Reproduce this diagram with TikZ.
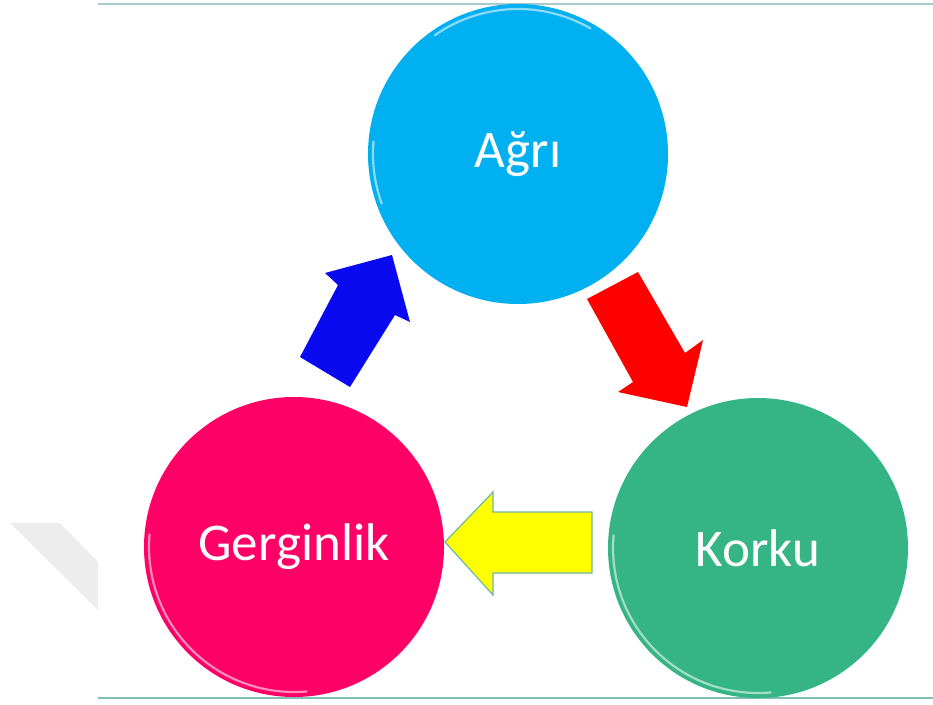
\documentclass[tikz,border=0pt]{standalone}
\usepackage{fontspec}
\setmainfont{Carlito}
\definecolor{cAgri}{HTML}{00B0F0}
\definecolor{cGerg}{HTML}{FF0066}
\definecolor{cKorku}{HTML}{35B585}
\definecolor{cBlueArr}{HTML}{0A0AF0}
\definecolor{cRedArr}{HTML}{FF0000}
\definecolor{cYelArr}{HTML}{FFFF00}
\definecolor{cYelEdge}{HTML}{6FB8A0}
\definecolor{cTopLine}{HTML}{A9CACC}
\definecolor{cBotLine}{HTML}{7FC0B4}
\definecolor{cWater}{HTML}{EDEDED}
\begin{document}
\begin{tikzpicture}[x=1pt,y=-1pt,
  bubble/.style={circle, minimum size=300pt, inner sep=0pt, text=white,
    font=\fontsize{53}{60}\selectfont},
  rim/.style={white, opacity=0.55, line width=2.2pt, line cap=round},
  blockarrow/.style={draw=none}]
\useasboundingbox (0,0) rectangle (933,704);
% faint watermark
\fill[cWater] (10,523) -- (60,523) -- (98,562) -- (98,610) -- cycle;
% frame lines
\draw[cTopLine, line width=2pt] (98,4) -- (933,4);
\draw[cBotLine, line width=2pt] (98,698) -- (933,698);
% circles
\node[bubble, fill=cAgri] (agri) at (518,154) {Ağrı};
\node[bubble, fill=cGerg] (gerg) at (294,547) {Gerginlik};
\node[bubble, fill=cKorku] (korku) at (758,548) {Korku};
% bevel rims
\draw[rim] (agri.center) ++(60:145pt) arc[start angle=60, end angle=125, radius=145pt];
\draw[rim] (agri.center) ++(175:145pt) arc[start angle=175, end angle=200, radius=145pt];
\draw[rim] (gerg.center) ++(175:145pt) arc[start angle=175, end angle=275, radius=145pt];
\draw[rim] (korku.center) ++(175:145pt) arc[start angle=175, end angle=275, radius=145pt];
% blue arrow (Gerginlik -> Agri)
\fill[cBlueArr] (300,357) -- (338,285) -- (325,273) -- (392,255) -- (410,322)
  -- (395,315) -- (350,387) -- cycle;
% red arrow (Agri -> Korku)
\fill[cRedArr] (587,299) -- (638,272) -- (685,353) -- (703,340) -- (687,407)
  -- (618,392) -- (633,382) -- cycle;
% yellow arrow (Korku -> Gerginlik)
\filldraw[fill=cYelArr, draw=cYelEdge, line width=1.2pt, line join=miter]
  (445,542) -- (493,492) -- (493,512) -- (592,512) -- (592,573) -- (493,573)
  -- (493,595) -- cycle;
\end{tikzpicture}
\end{document}
